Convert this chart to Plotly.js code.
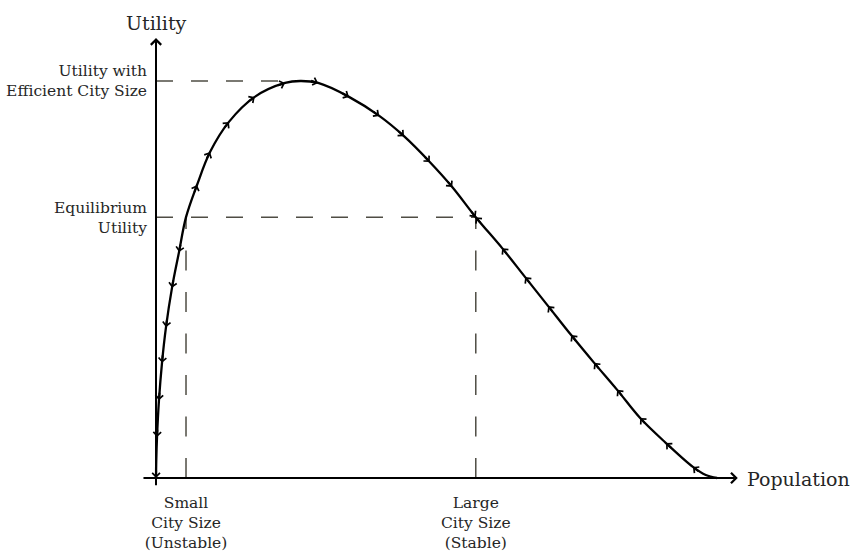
<!DOCTYPE html>
<html>
<head>
<meta charset="utf-8">
<script src="https://cdn.plot.ly/plotly-3.0.1.min.js"></script>
<style>html,body{margin:0;padding:0;background:#fff;}#chart{width:851px;height:552px;}</style>
</head>
<body>
<div id="chart"></div>
<script>
// ---- data ----
const population = [0, 0.05, 0.18, 0.53, 1.07, 1.78, 2.85, 4.1, 5.35, 7.31, 9.63, 13.0, 17.6, 23.0, 25.7, 28.9, 34.4, 39.8, 44.2, 48.8, 52.8, 57.0, 61.7, 65.8, 69.9, 74.0, 78.1, 82.2, 86.3, 90.9, 95.7, 98.0, 100];
const utility    = [0, 4.5, 10.3, 19.6, 29.0, 38.0, 47.9, 56.9, 65.7, 73.8, 82.1, 89.7, 96.0, 99.5, 100, 99.5, 96.0, 91.2, 86.1, 79.6, 73.3, 65.7, 57.9, 50.6, 43.3, 36.0, 29.0, 22.2, 15.1, 8.8, 2.8, 0.76, 0];

const smallCitySize = 5.35;
const largeCitySize = 57.0;
const efficientCitySize = 25.7;
const maxUtility = 100;
const equilibriumUtility = 65.7;

const xTickValues = [smallCitySize, largeCitySize];
const xTickLabels = ['Small<br>City Size<br>(Unstable)', 'Large<br>City Size<br>(Stable)'];
const yTickValues = [equilibriumUtility, maxUtility];
const yTickLabels = ['Equilibrium<br>Utility', 'Utility with<br>Efficient City Size'];

// direction arrows along the curve: index into the curve, +1 = toward larger population, -1 = toward smaller
const arrowIndex = [0, 2, 3, 4, 5, 6, 7, 9, 10, 11, 12, 13, 15, 16, 17, 18, 19, 20, 21, 21, 22, 23, 24, 25, 26, 27, 28, 29, 30];
const arrowDir   = [-1, -1, -1, -1, -1, -1, -1, 1, 1, 1, 1, 1, 1, 1, 1, 1, 1, 1, 1, -1, -1, -1, -1, -1, -1, -1, -1, -1, -1];

const xAxisEnd = [-2.5, 103.7];
const yAxisEnd = [-2.2, 110.8];

// ---- layout geometry ----
const W = 851, H = 552;
const M = {l: 151, r: 91, t: 30, b: 64};
const xRange = [-0.891, 107.66];
const yRange = [-2.519, 112.846];
const kx = (W - M.l - M.r) / (xRange[1] - xRange[0]);
const ky = (H - M.t - M.b) / (yRange[1] - yRange[0]);

const FONT = '"DejaVu Serif", "Liberation Serif", serif';
const TXT = '#262626';
const DASH = '#4f4d44';

const annotations = [];
// axes with arrowheads
annotations.push({x: 0, y: yAxisEnd[1], xref: 'x', yref: 'y', axref: 'x', ayref: 'y', ax: 0, ay: yAxisEnd[0],
  text: '', showarrow: true, arrowhead: 4, arrowsize: 1.0, arrowwidth: 2, arrowcolor: '#000'});
annotations.push({x: xAxisEnd[1], y: 0, xref: 'x', yref: 'y', axref: 'x', ayref: 'y', ax: xAxisEnd[0], ay: 0,
  text: '', showarrow: true, arrowhead: 4, arrowsize: 1.0, arrowwidth: 2, arrowcolor: '#000'});
// axis titles
annotations.push({x: 0, y: yAxisEnd[1], xref: 'x', yref: 'y', text: 'Utility', showarrow: false,
  xanchor: 'center', yanchor: 'bottom', yshift: 2, font: {family: FONT, size: 19, color: TXT}});
annotations.push({x: xAxisEnd[1], y: 0, xref: 'x', yref: 'y', text: 'Population', showarrow: false,
  xanchor: 'left', yanchor: 'middle', xshift: 7, yshift: -1, font: {family: FONT, size: 19, color: TXT}});

// arrows along the curve
const n = population.length;
arrowIndex.forEach((i, k) => {
  const d = arrowDir[k];
  const a = Math.max(i - 1, 0), b = Math.min(i + 1, n - 1);
  let tx = (population[b] - population[a]) * kx;
  let ty = -(utility[b] - utility[a]) * ky;
  const len = Math.hypot(tx, ty) || 1;
  tx /= len; ty /= len;
  const L = 9;
  annotations.push({x: population[i], y: utility[i], xref: 'x', yref: 'y',
    ax: -d * L * tx, ay: -d * L * ty, text: '', showarrow: true,
    arrowhead: 4, arrowsize: 0.75, arrowwidth: 2, arrowcolor: '#000'});
});

const shapes = [
  {type: 'line', xref: 'x', yref: 'y', x0: 0, x1: efficientCitySize, y0: maxUtility, y1: maxUtility,
   line: {color: DASH, width: 1.5, dash: '17px,18px'}, layer: 'below'},
  {type: 'line', xref: 'x', yref: 'y', x0: 0, x1: largeCitySize, y0: equilibriumUtility, y1: equilibriumUtility,
   line: {color: DASH, width: 1.5, dash: '17px,18px'}, layer: 'below'},
  {type: 'line', xref: 'x', yref: 'y', x0: smallCitySize, x1: smallCitySize, y0: 0, y1: equilibriumUtility,
   line: {color: DASH, width: 1.5, dash: '20px,21.5px'}, layer: 'below'},
  {type: 'line', xref: 'x', yref: 'y', x0: largeCitySize, x1: largeCitySize, y0: 0, y1: equilibriumUtility,
   line: {color: DASH, width: 1.5, dash: '20px,21.5px'}, layer: 'below'}
];

const trace = {
  x: population, y: utility, type: 'scatter', mode: 'lines',
  line: {color: '#000', width: 2.3, shape: 'spline', smoothing: 1},
  hoverinfo: 'skip'
};

const layout = {
  width: W, height: H, margin: M,
  paper_bgcolor: '#fff', plot_bgcolor: '#fff', showlegend: false,
  xaxis: {range: xRange, showgrid: false, zeroline: false, showline: false, ticks: '', ticklabelstandoff: 3,
    tickvals: xTickValues, ticktext: xTickLabels, tickfont: {family: FONT, size: 15.5, color: TXT}, fixedrange: true},
  yaxis: {range: yRange, showgrid: false, zeroline: false, showline: false, ticks: '', ticklabelstandoff: 3,
    tickvals: yTickValues, ticktext: yTickLabels, tickfont: {family: FONT, size: 15.5, color: TXT}, fixedrange: true},
  shapes: shapes,
  annotations: annotations
};

Plotly.newPlot('chart', [trace], layout, {staticPlot: true, displayModeBar: false});
</script>
</body>
</html>
